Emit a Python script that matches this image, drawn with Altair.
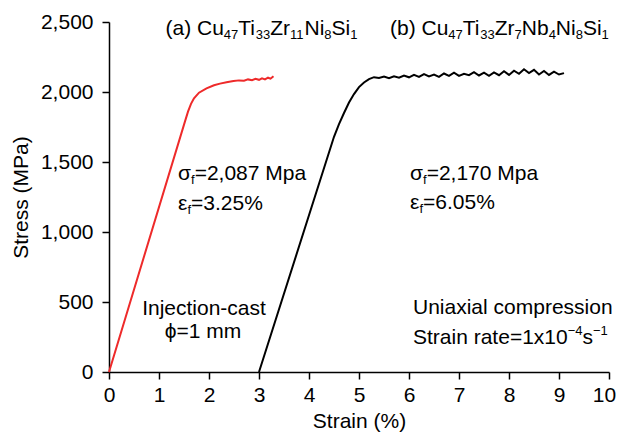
import altair as alt
import pandas as pd

# ---- data ----
red_strain = [0.0, 1.52, 1.58, 1.64, 1.70, 1.80, 1.95, 2.10, 2.22, 2.35, 2.49, 2.60, 2.70,
              2.78, 2.86, 2.93, 3.00, 3.06, 3.12, 3.18, 3.23, 3.29]
red_stress = [0, 1790, 1860, 1915, 1955, 1995, 2026, 2048, 2060, 2070, 2078, 2083, 2081,
              2090, 2084, 2094, 2087, 2098, 2090, 2102, 2095, 2113]

black_strain = [3.0, 4.50, 4.60, 4.70, 4.80, 4.90, 5.00, 5.10, 5.20, 5.30, 5.40, 5.50, 5.60,
                5.70, 5.80, 5.90, 6.00, 6.10, 6.20, 6.30, 6.40, 6.50, 6.60, 6.70, 6.80, 6.90,
                7.00, 7.10, 7.20, 7.30, 7.40, 7.50, 7.60, 7.70, 7.80, 7.90, 8.00, 8.10, 8.20,
                8.30, 8.40, 8.50, 8.60, 8.70, 8.80, 8.90, 9.00, 9.10]
black_stress = [0, 1680, 1770, 1850, 1925, 1985, 2035, 2068, 2092, 2106, 2100, 2110, 2098,
                2112, 2102, 2118, 2105, 2122, 2108, 2128, 2112, 2125, 2108, 2132, 2115, 2138,
                2115, 2130, 2120, 2142, 2118, 2138, 2115, 2140, 2120, 2148, 2122, 2152, 2130,
                2162, 2135, 2158, 2125, 2150, 2122, 2145, 2125, 2135]

x_ticks = [0, 1, 2, 3, 4, 5, 6, 7, 8, 9, 10]
y_ticks = [0, 500, 1000, 1500, 2000, 2500]

# ---- layout ----
W, H = 500, 350
FONT = "Liberation Sans"
MAIN, SMALL = 21, 13
RED = "#ee2a2a"

ADV = {c: 556 for c in "0123456789"}
ADV.update({"(": 333, ")": 333, " ": 278, "a": 556, "b": 556, "C": 722, "u": 556, "T": 611,
            "i": 222, "Z": 611, "r": 333, "N": 722, "S": 667, "=": 584, ",": 278, ".": 278,
            "M": 833, "p": 556, "%": 889, "x": 500, "s": 500, "\u2212": 584, "\u03c3": 620,
            "\u03b5": 450, "f": 278, "I": 278, "n": 556, "j": 222, "e": 556, "c": 500,
            "t": 278, "o": 556, "-": 333, "m": 833, "\u03d5": 650, "U": 722, "l": 222})


def tw(s, size):
    return sum(ADV.get(ch, 556) for ch in s) * size / 1000.0


def run(pieces, x0, y0):
    rows = []
    x = x0
    for text, kind in pieces:
        size = MAIN if kind == "n" else SMALL
        dy = {"n": 0, "sub": 4, "sup": -9}[kind]
        rows.append(dict(px=x, py=y0 + dy, text=text, size=size))
        x += tw(text, size)
    return rows


def centered(pieces, cx, y0):
    total = sum(tw(t, MAIN if k == "n" else SMALL) for t, k in pieces)
    return run(pieces, cx - total / 2, y0)


rows = []
rows += run([("(a) Cu", "n"), ("47", "sub"), ("Ti", "n"), ("33", "sub"), ("Zr", "n"),
             ("11", "sub"), ("Ni", "n"), ("8", "sub"), ("Si", "n"), ("1", "sub")], 56.5, 13)
rows += run([("(b) Cu", "n"), ("47", "sub"), ("Ti", "n"), ("33", "sub"), ("Zr", "n"),
             ("7", "sub"), ("Nb", "n"), ("4", "sub"), ("Ni", "n"), ("8", "sub"), ("Si", "n"),
             ("1", "sub")], 281, 13)
rows += run([("\u03c3", "n"), ("f", "sub"), ("=2,087 Mpa", "n")], 69, 158)
rows += run([("\u03b5", "n"), ("f", "sub"), ("=3.25%", "n")], 69, 188)
rows += run([("\u03c3", "n"), ("f", "sub"), ("=2,170 Mpa", "n")], 301, 158)
rows += run([("\u03b5", "n"), ("f", "sub"), ("=6.05%", "n")], 301, 187)
rows += centered([("Injection-cast", "n")], 95, 293)
rows += centered([("\u03d5=1 mm", "n")], 95, 316)
rows += run([("Uniaxial compression", "n")], 304, 292)
rows += run([("Strain rate=1x10", "n"), ("\u22124", "sup"), ("s", "n"), ("\u22121", "sup")], 304, 322)
ann = pd.DataFrame(rows)

curves = pd.DataFrame(
    [dict(series="a", idx=i, strain=s, stress=v) for i, (s, v) in enumerate(zip(red_strain, red_stress))]
    + [dict(series="b", idx=i, strain=s, stress=v) for i, (s, v) in enumerate(zip(black_strain, black_stress))]
)

xaxis = alt.Axis(values=x_ticks, format="d", title="Strain (%)", grid=False,
                 labelFont=FONT, labelFontSize=MAIN, labelColor="black", labelPadding=5,
                 labelFlush=False, labelOverlap=False,
                 labelOffset=alt.ExprRef(expr="datum.value == 10 ? -5 : 0"),
                 titleFont=FONT, titleFontSize=MAIN, titleFontWeight="normal", titleColor="black",
                 titleY=55, titleBaseline="alphabetic",
                 tickSize=7, tickWidth=1.5, tickColor="black", domainColor="black", domainWidth=1.5)
yaxis = alt.Axis(values=y_ticks, format=",.0f", title="Stress (MPa)", grid=False,
                 labelFont=FONT, labelFontSize=MAIN, labelColor="black", labelPadding=9,
                 labelFlush=False, labelOverlap=False,
                 titleFont=FONT, titleFontSize=MAIN, titleFontWeight="normal", titleColor="black",
                 titleX=-82, titleY=175, titleAngle=270, titleAlign="center", titleBaseline="alphabetic",
                 tickSize=7, tickWidth=1.5, tickColor="black", domainColor="black", domainWidth=1.5)

lines = alt.Chart(curves).mark_line(strokeWidth=2).encode(
    x=alt.X("strain:Q", scale=alt.Scale(domain=[0, 10], nice=False, zero=False), axis=xaxis),
    y=alt.Y("stress:Q", scale=alt.Scale(domain=[0, 2500], nice=False), axis=yaxis),
    color=alt.Color("series:N", scale=alt.Scale(domain=["a", "b"], range=[RED, "#000000"]), legend=None),
    order="idx:Q",
    detail="series:N",
)

texts = alt.Chart(ann).mark_text(align="left", baseline="alphabetic", font=FONT, color="black").encode(
    x=alt.X("px:Q", scale=None, axis=None),
    y=alt.Y("py:Q", scale=None, axis=None),
    text="text:N",
    size=alt.Size("size:Q", scale=None, legend=None),
)

chart = alt.layer(lines, texts).resolve_scale(x="independent", y="independent").properties(
    width=W, height=H,
    autosize=alt.AutoSizeParams(type="none"),
    padding={"left": 101, "top": 14, "right": 7, "bottom": 60},
    background="white",
).configure_view(stroke=None)

chart.save("out.html", embed_options={"renderer": "svg", "actions": False})
